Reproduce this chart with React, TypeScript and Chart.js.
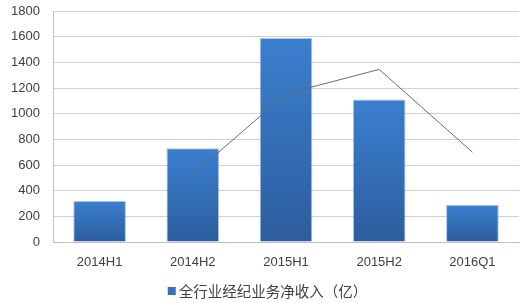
import React, { useEffect, useRef } from "react";
import { Chart, registerables } from "chart.js";

Chart.register(...registerables);

const categories = ["2014H1", "2014H2", "2015H1", "2015H2", "2016Q1"];
const brokerageIncome = [320, 730, 1590, 1110, 290];
const lineSeries = [null, 525, 1155, 1345, 700];
const barLabel = "全行业经纪业务净收入（亿）";

const legendPlugin = {
  id: "customLegend",
  afterDraw(chart: any) {
    const ctx = chart.ctx;
    ctx.save();
    ctx.font = "14.5px 'Noto Sans CJK SC'";
    const tw = ctx.measureText(barLabel).width;
    const box = 8;
    const gap = 3;
    const total = box + gap + tw;
    const x0 = (chart.width - total) / 2 + 5;
    const yc = chart.height - 12;
    ctx.fillStyle = "#3572c0";
    ctx.fillRect(x0, yc - box / 2, box, box);
    ctx.fillStyle = "#404040";
    ctx.textBaseline = "middle";
    ctx.textAlign = "left";
    ctx.fillText(barLabel, x0 + box + gap, yc);
    ctx.restore();
  },
};

export default function App() {
  const ref = useRef<HTMLCanvasElement | null>(null);

  useEffect(() => {
    document.body.style.margin = "0";
    const canvas = ref.current!;
    const chart = new Chart(canvas, {
      type: "bar",
      data: {
        labels: categories,
        datasets: [
          {
            type: "line",
            label: "line",
            data: lineSeries,
            borderColor: "#6b6b6b",
            borderWidth: 1,
            pointRadius: 0,
            tension: 0,
            fill: false,
            order: 0,
          } as any,
          {
            type: "bar",
            label: barLabel,
            data: brokerageIncome,
            order: 1,
            categoryPercentage: 1,
            barPercentage: 0.565,
            borderColor: "rgba(120,160,210,0.6)",
            borderWidth: 1,
            backgroundColor: (ctx: any) => {
              const c = ctx.chart;
              const ys = c.scales?.y;
              if (!ys || ctx.type !== "data") return "#3572c0";
              const v = ctx.raw as number;
              const top = ys.getPixelForValue(v);
              const bot = ys.getPixelForValue(0);
              if (!Number.isFinite(top) || !Number.isFinite(bot) || top === bot) return "#3572c0";
              const g = c.ctx.createLinearGradient(0, top, 0, bot);
              g.addColorStop(0, "#3b7fcf");
              g.addColorStop(1, "#2c5d9e");
              return g;
            },
          },
        ],
      },
      options: {
        animation: false,
        responsive: false,
        maintainAspectRatio: false,
        layout: { padding: { left: 0, right: 6, top: 11, bottom: 22 } },
        plugins: {
          tooltip: { enabled: false },
          legend: { display: false },
        },
        scales: {
          x: {
            grid: { display: false, drawTicks: false },
            border: { display: true, color: "#bfbfbf" },
            ticks: {
              color: "#404040",
              font: { family: "'Liberation Sans'", size: 13 },
              padding: 13,
            },
            afterFit: (s: any) => {
              s.height = 39;
            },
          },
          y: {
            min: 0,
            max: 1800,
            ticks: {
              stepSize: 200,
              color: "#404040",
              font: { family: "'Liberation Sans'", size: 13 },
              padding: 0,
              callback: (v: any) => String(v),
            },
            grid: {
              color: "#d0d0d0",
              drawTicks: true,
              tickLength: 13,
              tickColor: "rgba(0,0,0,0)",
            },
            border: { display: true, color: "#bfbfbf" },
            afterFit: (s: any) => {
              s.width = 53;
            },
          },
        },
      },
      plugins: [legendPlugin],
    });
    return () => chart.destroy();
  }, []);

  return <canvas ref={ref} width={525} height={303} style={{ display: "block" }} />;
}
